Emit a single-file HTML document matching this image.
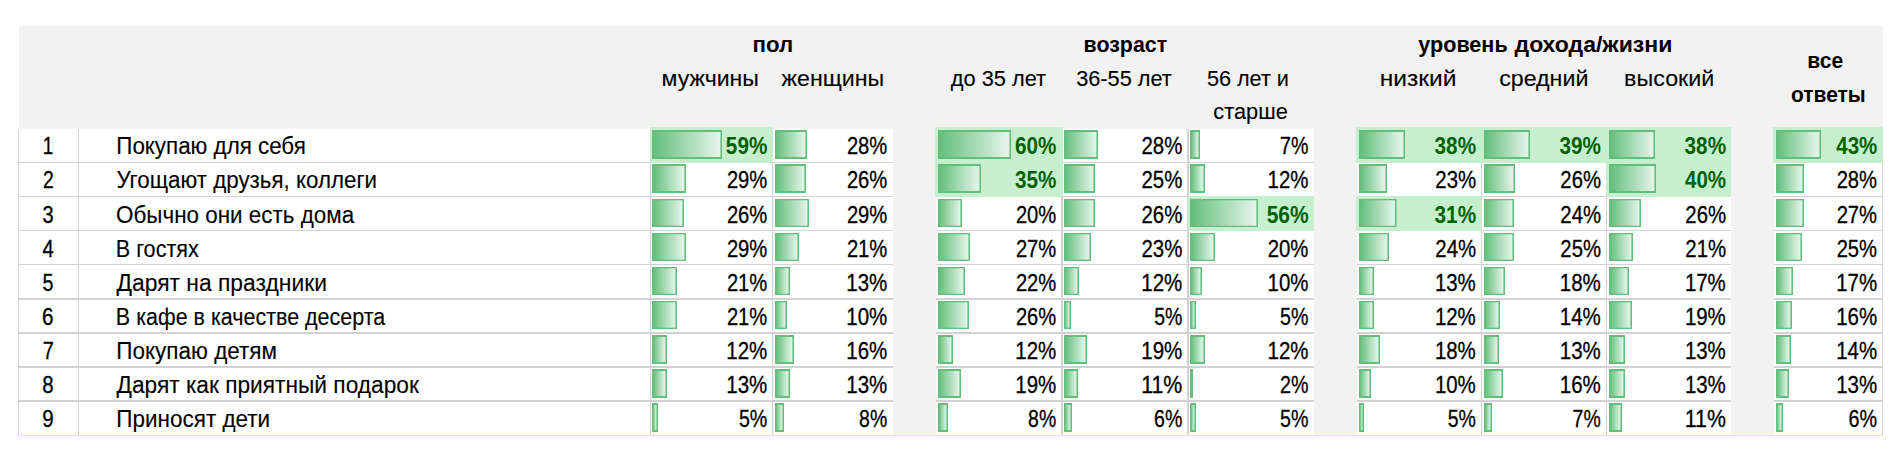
<!DOCTYPE html>
<html lang="ru"><head><meta charset="utf-8"><title>Таблица</title>
<style>
html,body{margin:0;padding:0;background:#fff}
body{width:1902px;height:463px;overflow:hidden}
svg{display:block}
text{font-family:"Liberation Sans",sans-serif;font-size:22.4px}
.b{font-weight:bold}
.g{fill:#006100}
.n{font-size:23.3px}
.l{font-size:23px}
.r{stroke:#000;stroke-width:0.12px}
.n.r{stroke-width:0.3px}
</style></head><body>
<svg width="1902" height="463" viewBox="0 0 1902 463">
<defs><linearGradient id="bg" x1="0" y1="0" x2="1" y2="0"><stop offset="0" stop-color="#63be7b"/><stop offset="1" stop-color="#e6f5eb"/></linearGradient></defs>
<rect width="1902" height="463" fill="#fff"/>
<rect x="19" y="26" width="1864" height="102.70" fill="#f2f2f2"/>
<rect x="893" y="128" width="43" height="307.79" fill="#f2f2f2"/>
<rect x="1314" y="128" width="43" height="307.79" fill="#f2f2f2"/>
<rect x="1731" y="128" width="43" height="307.79" fill="#f2f2f2"/>
<rect x="18" y="162" width="875" height="1" fill="#d2d2d2"/>
<rect x="936" y="162" width="378" height="1" fill="#d2d2d2"/>
<rect x="1357" y="162" width="374" height="1" fill="#d2d2d2"/>
<rect x="1774" y="162" width="109" height="1" fill="#d2d2d2"/>
<rect x="18" y="196" width="875" height="1" fill="#d2d2d2"/>
<rect x="936" y="196" width="378" height="1" fill="#d2d2d2"/>
<rect x="1357" y="196" width="374" height="1" fill="#d2d2d2"/>
<rect x="1774" y="196" width="109" height="1" fill="#d2d2d2"/>
<rect x="18" y="230" width="875" height="1" fill="#d2d2d2"/>
<rect x="936" y="230" width="378" height="1" fill="#d2d2d2"/>
<rect x="1357" y="230" width="374" height="1" fill="#d2d2d2"/>
<rect x="1774" y="230" width="109" height="1" fill="#d2d2d2"/>
<rect x="18" y="264" width="875" height="1" fill="#d2d2d2"/>
<rect x="936" y="264" width="378" height="1" fill="#d2d2d2"/>
<rect x="1357" y="264" width="374" height="1" fill="#d2d2d2"/>
<rect x="1774" y="264" width="109" height="1" fill="#d2d2d2"/>
<rect x="18" y="298" width="875" height="2" fill="#d2d2d2"/>
<rect x="936" y="298" width="378" height="2" fill="#d2d2d2"/>
<rect x="1357" y="298" width="374" height="2" fill="#d2d2d2"/>
<rect x="1774" y="298" width="109" height="2" fill="#d2d2d2"/>
<rect x="18" y="332" width="875" height="2" fill="#d2d2d2"/>
<rect x="936" y="332" width="378" height="2" fill="#d2d2d2"/>
<rect x="1357" y="332" width="374" height="2" fill="#d2d2d2"/>
<rect x="1774" y="332" width="109" height="2" fill="#d2d2d2"/>
<rect x="18" y="366" width="875" height="2" fill="#d2d2d2"/>
<rect x="936" y="366" width="378" height="2" fill="#d2d2d2"/>
<rect x="1357" y="366" width="374" height="2" fill="#d2d2d2"/>
<rect x="1774" y="366" width="109" height="2" fill="#d2d2d2"/>
<rect x="18" y="400" width="875" height="2" fill="#d2d2d2"/>
<rect x="936" y="400" width="378" height="2" fill="#d2d2d2"/>
<rect x="1357" y="400" width="374" height="2" fill="#d2d2d2"/>
<rect x="1774" y="400" width="109" height="2" fill="#d2d2d2"/>
<rect x="18" y="435" width="1865" height="1" fill="#ffe699"/>
<rect x="18" y="129" width="1" height="306" fill="#d2d2d2"/>
<rect x="78" y="129" width="1" height="306" fill="#d2d2d2"/>
<rect x="650" y="129" width="1" height="306" fill="#d2d2d2"/>
<rect x="772" y="129" width="1" height="306" fill="#d2d2d2"/>
<rect x="1061" y="129" width="2" height="306" fill="#d2d2d2"/>
<rect x="1187" y="129" width="2" height="306" fill="#d2d2d2"/>
<rect x="1481" y="129" width="1" height="306" fill="#d2d2d2"/>
<rect x="1606" y="129" width="1" height="306" fill="#d2d2d2"/>
<rect x="1882" y="129" width="1" height="306" fill="#d2d2d2"/>
<rect x="650" y="127" width="123" height="36" fill="#c6efce"/>
<rect x="935" y="127" width="128" height="36" fill="#c6efce"/>
<rect x="1356" y="127" width="126" height="36" fill="#c6efce"/>
<rect x="1482" y="127" width="124" height="36" fill="#c6efce"/>
<rect x="1606" y="127" width="125" height="36" fill="#c6efce"/>
<rect x="1773" y="127" width="110" height="36" fill="#c6efce"/>
<rect x="935" y="163" width="128" height="34" fill="#c6efce"/>
<rect x="1606" y="163" width="125" height="34" fill="#c6efce"/>
<rect x="1188" y="196" width="126" height="35" fill="#c6efce"/>
<rect x="1356" y="196" width="126" height="35" fill="#c6efce"/>
<rect x="652" y="130" width="70" height="29" fill="#63be7b"/><rect x="653" y="132" width="67.4" height="25" fill="url(#bg)"/>
<rect x="775" y="130" width="32" height="29" fill="#63be7b"/><rect x="776" y="132" width="29.4" height="25" fill="url(#bg)"/>
<rect x="938" y="130" width="73" height="29" fill="#63be7b"/><rect x="939" y="132" width="70.4" height="25" fill="url(#bg)"/>
<rect x="1064" y="130" width="34" height="29" fill="#63be7b"/><rect x="1065" y="132" width="31.4" height="25" fill="url(#bg)"/>
<rect x="1190" y="130" width="10" height="29" fill="#63be7b"/><rect x="1191" y="132" width="7.4" height="25" fill="url(#bg)"/>
<rect x="1359" y="130" width="46" height="29" fill="#63be7b"/><rect x="1360" y="132" width="43.4" height="25" fill="url(#bg)"/>
<rect x="1484" y="130" width="46" height="29" fill="#63be7b"/><rect x="1485" y="132" width="43.4" height="25" fill="url(#bg)"/>
<rect x="1609" y="130" width="46" height="29" fill="#63be7b"/><rect x="1610" y="132" width="43.4" height="25" fill="url(#bg)"/>
<rect x="1776" y="130" width="45" height="29" fill="#63be7b"/><rect x="1777" y="132" width="42.4" height="25" fill="url(#bg)"/>
<rect x="652" y="164" width="34" height="29" fill="#63be7b"/><rect x="653" y="166" width="31.4" height="25" fill="url(#bg)"/>
<rect x="775" y="164" width="31" height="29" fill="#63be7b"/><rect x="776" y="166" width="28.4" height="25" fill="url(#bg)"/>
<rect x="938" y="164" width="43" height="29" fill="#63be7b"/><rect x="939" y="166" width="40.4" height="25" fill="url(#bg)"/>
<rect x="1064" y="164" width="31" height="29" fill="#63be7b"/><rect x="1065" y="166" width="28.4" height="25" fill="url(#bg)"/>
<rect x="1190" y="164" width="15" height="29" fill="#63be7b"/><rect x="1191" y="166" width="12.4" height="25" fill="url(#bg)"/>
<rect x="1359" y="164" width="28" height="29" fill="#63be7b"/><rect x="1360" y="166" width="25.4" height="25" fill="url(#bg)"/>
<rect x="1484" y="164" width="31" height="29" fill="#63be7b"/><rect x="1485" y="166" width="28.4" height="25" fill="url(#bg)"/>
<rect x="1609" y="164" width="47" height="29" fill="#63be7b"/><rect x="1610" y="166" width="44.4" height="25" fill="url(#bg)"/>
<rect x="1776" y="164" width="28" height="29" fill="#63be7b"/><rect x="1777" y="166" width="25.4" height="25" fill="url(#bg)"/>
<rect x="652" y="199" width="32" height="28" fill="#63be7b"/><rect x="653" y="200.3" width="29.4" height="25.4" fill="url(#bg)"/>
<rect x="775" y="199" width="34" height="28" fill="#63be7b"/><rect x="776" y="200.3" width="31.4" height="25.4" fill="url(#bg)"/>
<rect x="938" y="199" width="24" height="28" fill="#63be7b"/><rect x="939" y="200.3" width="21.4" height="25.4" fill="url(#bg)"/>
<rect x="1064" y="199" width="31" height="28" fill="#63be7b"/><rect x="1065" y="200.3" width="28.4" height="25.4" fill="url(#bg)"/>
<rect x="1190" y="199" width="68" height="28" fill="#63be7b"/><rect x="1191" y="200.3" width="65.4" height="25.4" fill="url(#bg)"/>
<rect x="1359" y="199" width="37.5" height="28" fill="#63be7b"/><rect x="1360" y="200.3" width="34.9" height="25.4" fill="url(#bg)"/>
<rect x="1484" y="199" width="30" height="28" fill="#63be7b"/><rect x="1485" y="200.3" width="27.4" height="25.4" fill="url(#bg)"/>
<rect x="1609" y="199" width="32" height="28" fill="#63be7b"/><rect x="1610" y="200.3" width="29.4" height="25.4" fill="url(#bg)"/>
<rect x="1776" y="199" width="28" height="28" fill="#63be7b"/><rect x="1777" y="200.3" width="25.4" height="25.4" fill="url(#bg)"/>
<rect x="652" y="233" width="34" height="28" fill="#63be7b"/><rect x="653" y="234.3" width="31.4" height="25.4" fill="url(#bg)"/>
<rect x="775" y="233" width="24" height="28" fill="#63be7b"/><rect x="776" y="234.3" width="21.4" height="25.4" fill="url(#bg)"/>
<rect x="938" y="233" width="32" height="28" fill="#63be7b"/><rect x="939" y="234.3" width="29.4" height="25.4" fill="url(#bg)"/>
<rect x="1064" y="233" width="27" height="28" fill="#63be7b"/><rect x="1065" y="234.3" width="24.4" height="25.4" fill="url(#bg)"/>
<rect x="1190" y="233" width="25" height="28" fill="#63be7b"/><rect x="1191" y="234.3" width="22.4" height="25.4" fill="url(#bg)"/>
<rect x="1359" y="233" width="30" height="28" fill="#63be7b"/><rect x="1360" y="234.3" width="27.4" height="25.4" fill="url(#bg)"/>
<rect x="1484" y="233" width="30" height="28" fill="#63be7b"/><rect x="1485" y="234.3" width="27.4" height="25.4" fill="url(#bg)"/>
<rect x="1609" y="233" width="24" height="28" fill="#63be7b"/><rect x="1610" y="234.3" width="21.4" height="25.4" fill="url(#bg)"/>
<rect x="1776" y="233" width="26" height="28" fill="#63be7b"/><rect x="1777" y="234.3" width="23.4" height="25.4" fill="url(#bg)"/>
<rect x="652" y="267" width="25" height="28" fill="#63be7b"/><rect x="653" y="268.3" width="22.4" height="25.4" fill="url(#bg)"/>
<rect x="775" y="267" width="15" height="28" fill="#63be7b"/><rect x="776" y="268.3" width="12.4" height="25.4" fill="url(#bg)"/>
<rect x="938" y="267" width="27" height="28" fill="#63be7b"/><rect x="939" y="268.3" width="24.4" height="25.4" fill="url(#bg)"/>
<rect x="1064" y="267" width="15" height="28" fill="#63be7b"/><rect x="1065" y="268.3" width="12.4" height="25.4" fill="url(#bg)"/>
<rect x="1190" y="267" width="12" height="28" fill="#63be7b"/><rect x="1191" y="268.3" width="9.4" height="25.4" fill="url(#bg)"/>
<rect x="1359" y="267" width="15" height="28" fill="#63be7b"/><rect x="1360" y="268.3" width="12.4" height="25.4" fill="url(#bg)"/>
<rect x="1484" y="267" width="21" height="28" fill="#63be7b"/><rect x="1485" y="268.3" width="18.4" height="25.4" fill="url(#bg)"/>
<rect x="1609" y="267" width="20" height="28" fill="#63be7b"/><rect x="1610" y="268.3" width="17.4" height="25.4" fill="url(#bg)"/>
<rect x="1776" y="267" width="17" height="28" fill="#63be7b"/><rect x="1777" y="268.3" width="14.4" height="25.4" fill="url(#bg)"/>
<rect x="652" y="301" width="25" height="28" fill="#63be7b"/><rect x="653" y="302.3" width="22.4" height="25.4" fill="url(#bg)"/>
<rect x="775" y="301" width="12" height="28" fill="#63be7b"/><rect x="776" y="302.3" width="9.4" height="25.4" fill="url(#bg)"/>
<rect x="938" y="301" width="31" height="28" fill="#63be7b"/><rect x="939" y="302.3" width="28.4" height="25.4" fill="url(#bg)"/>
<rect x="1064" y="301" width="7" height="28" fill="#63be7b"/><rect x="1065" y="302.3" width="4.4" height="25.4" fill="url(#bg)"/>
<rect x="1190" y="301" width="6" height="28" fill="#63be7b"/><rect x="1191" y="302.3" width="3.4" height="25.4" fill="url(#bg)"/>
<rect x="1359" y="301" width="15" height="28" fill="#63be7b"/><rect x="1360" y="302.3" width="12.4" height="25.4" fill="url(#bg)"/>
<rect x="1484" y="301" width="16" height="28" fill="#63be7b"/><rect x="1485" y="302.3" width="13.4" height="25.4" fill="url(#bg)"/>
<rect x="1609" y="301" width="23" height="28" fill="#63be7b"/><rect x="1610" y="302.3" width="20.4" height="25.4" fill="url(#bg)"/>
<rect x="1776" y="301" width="16" height="28" fill="#63be7b"/><rect x="1777" y="302.3" width="13.4" height="25.4" fill="url(#bg)"/>
<rect x="652" y="335" width="15" height="29" fill="#63be7b"/><rect x="653" y="337" width="12.4" height="25" fill="url(#bg)"/>
<rect x="775" y="335" width="19" height="29" fill="#63be7b"/><rect x="776" y="337" width="16.4" height="25" fill="url(#bg)"/>
<rect x="938" y="335" width="15" height="29" fill="#63be7b"/><rect x="939" y="337" width="12.4" height="25" fill="url(#bg)"/>
<rect x="1064" y="335" width="23" height="29" fill="#63be7b"/><rect x="1065" y="337" width="20.4" height="25" fill="url(#bg)"/>
<rect x="1190" y="335" width="15" height="29" fill="#63be7b"/><rect x="1191" y="337" width="12.4" height="25" fill="url(#bg)"/>
<rect x="1359" y="335" width="21" height="29" fill="#63be7b"/><rect x="1360" y="337" width="18.4" height="25" fill="url(#bg)"/>
<rect x="1484" y="335" width="15" height="29" fill="#63be7b"/><rect x="1485" y="337" width="12.4" height="25" fill="url(#bg)"/>
<rect x="1609" y="335" width="16" height="29" fill="#63be7b"/><rect x="1610" y="337" width="13.4" height="25" fill="url(#bg)"/>
<rect x="1776" y="335" width="15" height="29" fill="#63be7b"/><rect x="1777" y="337" width="12.4" height="25" fill="url(#bg)"/>
<rect x="652" y="369" width="15" height="29" fill="#63be7b"/><rect x="653" y="371" width="12.4" height="25" fill="url(#bg)"/>
<rect x="775" y="369" width="15" height="29" fill="#63be7b"/><rect x="776" y="371" width="12.4" height="25" fill="url(#bg)"/>
<rect x="938" y="369" width="23" height="29" fill="#63be7b"/><rect x="939" y="371" width="20.4" height="25" fill="url(#bg)"/>
<rect x="1064" y="369" width="14" height="29" fill="#63be7b"/><rect x="1065" y="371" width="11.4" height="25" fill="url(#bg)"/>
<rect x="1190" y="369" width="3" height="29" fill="#63be7b"/>
<rect x="1359" y="369" width="12" height="29" fill="#63be7b"/><rect x="1360" y="371" width="9.4" height="25" fill="url(#bg)"/>
<rect x="1484" y="369" width="19" height="29" fill="#63be7b"/><rect x="1485" y="371" width="16.4" height="25" fill="url(#bg)"/>
<rect x="1609" y="369" width="16" height="29" fill="#63be7b"/><rect x="1610" y="371" width="13.4" height="25" fill="url(#bg)"/>
<rect x="1776" y="369" width="13" height="29" fill="#63be7b"/><rect x="1777" y="371" width="10.4" height="25" fill="url(#bg)"/>
<rect x="652" y="403" width="6" height="29" fill="#63be7b"/><rect x="653" y="405" width="3.4" height="25" fill="url(#bg)"/>
<rect x="775" y="403" width="9" height="29" fill="#63be7b"/><rect x="776" y="405" width="6.4" height="25" fill="url(#bg)"/>
<rect x="938" y="403" width="10" height="29" fill="#63be7b"/><rect x="939" y="405" width="7.4" height="25" fill="url(#bg)"/>
<rect x="1064" y="403" width="8" height="29" fill="#63be7b"/><rect x="1065" y="405" width="5.4" height="25" fill="url(#bg)"/>
<rect x="1190" y="403" width="6" height="29" fill="#63be7b"/><rect x="1191" y="405" width="3.4" height="25" fill="url(#bg)"/>
<rect x="1359" y="403" width="5" height="29" fill="#63be7b"/><rect x="1360" y="405" width="2.4" height="25" fill="url(#bg)"/>
<rect x="1484" y="403" width="8" height="29" fill="#63be7b"/><rect x="1485" y="405" width="5.4" height="25" fill="url(#bg)"/>
<rect x="1609" y="403" width="13" height="29" fill="#63be7b"/><rect x="1610" y="405" width="10.4" height="25" fill="url(#bg)"/>
<rect x="1776" y="403" width="7" height="29" fill="#63be7b"/><rect x="1777" y="405" width="4.4" height="25" fill="url(#bg)"/>
<text x="752.43" y="52" textLength="40.72" lengthAdjust="spacingAndGlyphs" class="b">пол</text>
<text x="661.50" y="86" textLength="97.44" lengthAdjust="spacingAndGlyphs" class="r">мужчины</text>
<text x="781.58" y="86" textLength="102.71" lengthAdjust="spacingAndGlyphs" class="r">женщины</text>
<text x="1083.61" y="52" textLength="83.51" lengthAdjust="spacingAndGlyphs" class="b">возраст</text>
<text x="950.82" y="86" textLength="95.26" lengthAdjust="spacingAndGlyphs" class="r">до 35 лет</text>
<text x="1076.13" y="86" textLength="95.66" lengthAdjust="spacingAndGlyphs" class="r">36-55 лет</text>
<text x="1206.88" y="86" textLength="82.01" lengthAdjust="spacingAndGlyphs" class="r">56 лет и</text>
<text x="1213.34" y="119" textLength="74.43" lengthAdjust="spacingAndGlyphs" class="r">старше</text>
<text y="52" class="b"><tspan x="1418.31" textLength="89.38" lengthAdjust="spacingAndGlyphs">уровень</tspan> <tspan x="1514.54" textLength="157.77" lengthAdjust="spacingAndGlyphs">дохода/жизни</tspan></text>
<text x="1379.67" y="86" textLength="76.79" lengthAdjust="spacingAndGlyphs" class="r">низкий</text>
<text x="1499.16" y="86" textLength="89.22" lengthAdjust="spacingAndGlyphs" class="r">средний</text>
<text x="1624.14" y="86" textLength="90.20" lengthAdjust="spacingAndGlyphs" class="r">высокий</text>
<text x="1807.31" y="68" textLength="35.88" lengthAdjust="spacingAndGlyphs" class="b">все</text>
<text x="1791.03" y="102" textLength="74.63" lengthAdjust="spacingAndGlyphs" class="b">ответы</text>
<text x="42.83" y="154" textLength="10.51" lengthAdjust="spacingAndGlyphs" class="n r">1</text>
<text x="116.33" y="154" textLength="189.46" lengthAdjust="spacingAndGlyphs" class="l r">Покупаю для себя</text>
<text x="725.87" y="154" textLength="41.47" lengthAdjust="spacingAndGlyphs" class="b g n">59%</text>
<text x="846.88" y="154" textLength="40.42" lengthAdjust="spacingAndGlyphs" class="n r">28%</text>
<text x="1014.98" y="154" textLength="41.30" lengthAdjust="spacingAndGlyphs" class="b g n">60%</text>
<text x="1141.51" y="154" textLength="40.87" lengthAdjust="spacingAndGlyphs" class="n r">28%</text>
<text x="1280.12" y="154" textLength="28.34" lengthAdjust="spacingAndGlyphs" class="n r">7%</text>
<text x="1434.58" y="154" textLength="41.49" lengthAdjust="spacingAndGlyphs" class="b g n">38%</text>
<text x="1559.47" y="154" textLength="41.46" lengthAdjust="spacingAndGlyphs" class="b g n">39%</text>
<text x="1684.58" y="154" textLength="41.49" lengthAdjust="spacingAndGlyphs" class="b g n">38%</text>
<text x="1836.25" y="154" textLength="41.04" lengthAdjust="spacingAndGlyphs" class="b g n">43%</text>
<text x="42.88" y="188" textLength="10.74" lengthAdjust="spacingAndGlyphs" class="n r">2</text>
<text x="116.44" y="188" textLength="260.59" lengthAdjust="spacingAndGlyphs" class="l r">Угощают друзья, коллеги</text>
<text x="726.88" y="188" textLength="40.42" lengthAdjust="spacingAndGlyphs" class="n r">29%</text>
<text x="846.88" y="188" textLength="40.42" lengthAdjust="spacingAndGlyphs" class="n r">26%</text>
<text x="1014.97" y="188" textLength="41.35" lengthAdjust="spacingAndGlyphs" class="b g n">35%</text>
<text x="1141.51" y="188" textLength="40.87" lengthAdjust="spacingAndGlyphs" class="n r">25%</text>
<text x="1267.53" y="188" textLength="40.90" lengthAdjust="spacingAndGlyphs" class="n r">12%</text>
<text x="1435.37" y="188" textLength="40.80" lengthAdjust="spacingAndGlyphs" class="n r">23%</text>
<text x="1560.37" y="188" textLength="40.61" lengthAdjust="spacingAndGlyphs" class="n r">26%</text>
<text x="1685.05" y="188" textLength="41.07" lengthAdjust="spacingAndGlyphs" class="b g n">40%</text>
<text x="1836.65" y="188" textLength="40.42" lengthAdjust="spacingAndGlyphs" class="n r">28%</text>
<text x="42.46" y="223" textLength="11.14" lengthAdjust="spacingAndGlyphs" class="n r">3</text>
<text x="116.09" y="223" textLength="238.05" lengthAdjust="spacingAndGlyphs" class="l r">Обычно они есть дома</text>
<text x="726.88" y="223" textLength="40.42" lengthAdjust="spacingAndGlyphs" class="n r">26%</text>
<text x="846.88" y="223" textLength="40.42" lengthAdjust="spacingAndGlyphs" class="n r">29%</text>
<text x="1015.88" y="223" textLength="40.42" lengthAdjust="spacingAndGlyphs" class="n r">20%</text>
<text x="1141.51" y="223" textLength="40.87" lengthAdjust="spacingAndGlyphs" class="n r">26%</text>
<text x="1266.69" y="223" textLength="41.92" lengthAdjust="spacingAndGlyphs" class="b g n">56%</text>
<text x="1434.58" y="223" textLength="41.49" lengthAdjust="spacingAndGlyphs" class="b g n">31%</text>
<text x="1560.37" y="223" textLength="40.61" lengthAdjust="spacingAndGlyphs" class="n r">24%</text>
<text x="1685.37" y="223" textLength="40.80" lengthAdjust="spacingAndGlyphs" class="n r">26%</text>
<text x="1836.65" y="223" textLength="40.42" lengthAdjust="spacingAndGlyphs" class="n r">27%</text>
<text x="42.59" y="257" textLength="11.28" lengthAdjust="spacingAndGlyphs" class="n r">4</text>
<text x="115.82" y="257" textLength="83.00" lengthAdjust="spacingAndGlyphs" class="l r">В гостях</text>
<text x="726.88" y="257" textLength="40.42" lengthAdjust="spacingAndGlyphs" class="n r">29%</text>
<text x="846.88" y="257" textLength="40.42" lengthAdjust="spacingAndGlyphs" class="n r">21%</text>
<text x="1015.88" y="257" textLength="40.42" lengthAdjust="spacingAndGlyphs" class="n r">27%</text>
<text x="1141.51" y="257" textLength="40.87" lengthAdjust="spacingAndGlyphs" class="n r">23%</text>
<text x="1267.67" y="257" textLength="40.73" lengthAdjust="spacingAndGlyphs" class="n r">20%</text>
<text x="1435.37" y="257" textLength="40.80" lengthAdjust="spacingAndGlyphs" class="n r">24%</text>
<text x="1560.37" y="257" textLength="40.61" lengthAdjust="spacingAndGlyphs" class="n r">25%</text>
<text x="1685.37" y="257" textLength="40.80" lengthAdjust="spacingAndGlyphs" class="n r">21%</text>
<text x="1836.65" y="257" textLength="40.42" lengthAdjust="spacingAndGlyphs" class="n r">25%</text>
<text x="42.53" y="291" textLength="10.95" lengthAdjust="spacingAndGlyphs" class="n r">5</text>
<text x="116.52" y="291" textLength="210.38" lengthAdjust="spacingAndGlyphs" class="l r">Дарят на праздники</text>
<text x="726.88" y="291" textLength="40.42" lengthAdjust="spacingAndGlyphs" class="n r">21%</text>
<text x="846.29" y="291" textLength="41.00" lengthAdjust="spacingAndGlyphs" class="n r">13%</text>
<text x="1015.88" y="291" textLength="40.42" lengthAdjust="spacingAndGlyphs" class="n r">22%</text>
<text x="1141.33" y="291" textLength="40.98" lengthAdjust="spacingAndGlyphs" class="n r">12%</text>
<text x="1267.53" y="291" textLength="40.90" lengthAdjust="spacingAndGlyphs" class="n r">10%</text>
<text x="1434.90" y="291" textLength="40.88" lengthAdjust="spacingAndGlyphs" class="n r">13%</text>
<text x="1559.83" y="291" textLength="40.99" lengthAdjust="spacingAndGlyphs" class="n r">18%</text>
<text x="1684.90" y="291" textLength="40.88" lengthAdjust="spacingAndGlyphs" class="n r">17%</text>
<text x="1836.19" y="291" textLength="41.01" lengthAdjust="spacingAndGlyphs" class="n r">17%</text>
<text x="42.09" y="325" textLength="11.50" lengthAdjust="spacingAndGlyphs" class="n r">6</text>
<text x="115.87" y="325" textLength="269.37" lengthAdjust="spacingAndGlyphs" class="l r">В кафе в качестве десерта</text>
<text x="726.88" y="325" textLength="40.42" lengthAdjust="spacingAndGlyphs" class="n r">21%</text>
<text x="846.29" y="325" textLength="41.00" lengthAdjust="spacingAndGlyphs" class="n r">10%</text>
<text x="1015.88" y="325" textLength="40.42" lengthAdjust="spacingAndGlyphs" class="n r">26%</text>
<text x="1154.13" y="325" textLength="28.11" lengthAdjust="spacingAndGlyphs" class="n r">5%</text>
<text x="1280.05" y="325" textLength="28.39" lengthAdjust="spacingAndGlyphs" class="n r">5%</text>
<text x="1434.90" y="325" textLength="40.88" lengthAdjust="spacingAndGlyphs" class="n r">12%</text>
<text x="1559.83" y="325" textLength="40.99" lengthAdjust="spacingAndGlyphs" class="n r">14%</text>
<text x="1684.90" y="325" textLength="40.88" lengthAdjust="spacingAndGlyphs" class="n r">19%</text>
<text x="1836.19" y="325" textLength="41.01" lengthAdjust="spacingAndGlyphs" class="n r">16%</text>
<text x="42.65" y="359" textLength="11.12" lengthAdjust="spacingAndGlyphs" class="n r">7</text>
<text x="116.32" y="359" textLength="160.69" lengthAdjust="spacingAndGlyphs" class="l r">Покупаю детям</text>
<text x="726.29" y="359" textLength="41.00" lengthAdjust="spacingAndGlyphs" class="n r">12%</text>
<text x="846.29" y="359" textLength="41.00" lengthAdjust="spacingAndGlyphs" class="n r">16%</text>
<text x="1015.29" y="359" textLength="41.00" lengthAdjust="spacingAndGlyphs" class="n r">12%</text>
<text x="1141.33" y="359" textLength="40.98" lengthAdjust="spacingAndGlyphs" class="n r">19%</text>
<text x="1267.53" y="359" textLength="40.90" lengthAdjust="spacingAndGlyphs" class="n r">12%</text>
<text x="1434.90" y="359" textLength="40.88" lengthAdjust="spacingAndGlyphs" class="n r">18%</text>
<text x="1559.83" y="359" textLength="40.99" lengthAdjust="spacingAndGlyphs" class="n r">13%</text>
<text x="1684.90" y="359" textLength="40.88" lengthAdjust="spacingAndGlyphs" class="n r">13%</text>
<text x="1836.19" y="359" textLength="41.01" lengthAdjust="spacingAndGlyphs" class="n r">14%</text>
<text x="42.37" y="393" textLength="11.40" lengthAdjust="spacingAndGlyphs" class="n r">8</text>
<text x="116.52" y="393" textLength="302.32" lengthAdjust="spacingAndGlyphs" class="l r">Дарят как приятный подарок</text>
<text x="726.29" y="393" textLength="41.00" lengthAdjust="spacingAndGlyphs" class="n r">13%</text>
<text x="846.29" y="393" textLength="41.00" lengthAdjust="spacingAndGlyphs" class="n r">13%</text>
<text x="1015.29" y="393" textLength="41.00" lengthAdjust="spacingAndGlyphs" class="n r">19%</text>
<text x="1141.25" y="393" textLength="41.05" lengthAdjust="spacingAndGlyphs" class="n r">11%</text>
<text x="1280.02" y="393" textLength="28.44" lengthAdjust="spacingAndGlyphs" class="n r">2%</text>
<text x="1434.90" y="393" textLength="40.88" lengthAdjust="spacingAndGlyphs" class="n r">10%</text>
<text x="1559.83" y="393" textLength="40.99" lengthAdjust="spacingAndGlyphs" class="n r">16%</text>
<text x="1684.90" y="393" textLength="40.88" lengthAdjust="spacingAndGlyphs" class="n r">13%</text>
<text x="1836.19" y="393" textLength="41.01" lengthAdjust="spacingAndGlyphs" class="n r">13%</text>
<text x="42.32" y="427" textLength="11.45" lengthAdjust="spacingAndGlyphs" class="n r">9</text>
<text x="116.31" y="427" textLength="153.89" lengthAdjust="spacingAndGlyphs" class="l r">Приносят дети</text>
<text x="738.89" y="427" textLength="28.41" lengthAdjust="spacingAndGlyphs" class="n r">5%</text>
<text x="859.11" y="427" textLength="28.06" lengthAdjust="spacingAndGlyphs" class="n r">8%</text>
<text x="1028.11" y="427" textLength="28.06" lengthAdjust="spacingAndGlyphs" class="n r">8%</text>
<text x="1154.09" y="427" textLength="28.25" lengthAdjust="spacingAndGlyphs" class="n r">6%</text>
<text x="1280.05" y="427" textLength="28.39" lengthAdjust="spacingAndGlyphs" class="n r">5%</text>
<text x="1447.70" y="427" textLength="28.19" lengthAdjust="spacingAndGlyphs" class="n r">5%</text>
<text x="1572.59" y="427" textLength="28.09" lengthAdjust="spacingAndGlyphs" class="n r">7%</text>
<text x="1684.82" y="427" textLength="41.06" lengthAdjust="spacingAndGlyphs" class="n r">11%</text>
<text x="1848.50" y="427" textLength="28.52" lengthAdjust="spacingAndGlyphs" class="n r">6%</text>
</svg>
</body></html>
